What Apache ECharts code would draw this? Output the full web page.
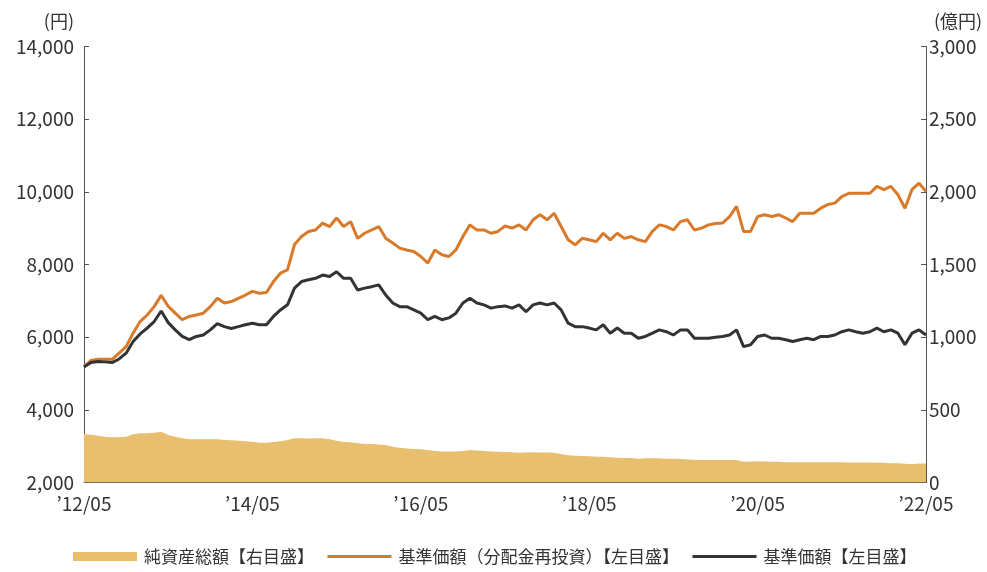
<!DOCTYPE html>
<html>
<head>
<meta charset="utf-8">
<script src="https://cdn.jsdelivr.net/npm/echarts@6/dist/echarts.min.js"></script>
<style>html,body{margin:0;padding:0;background:#fff}#c{width:987px;height:572px}</style>
</head>
<body>
<div id="c"></div>
<script>
// Month index 0 = 2012/05 ... 120 = 2022/05
var xLabels = ["\u201912/05", "\u201914/05", "\u201916/05", "\u201918/05", "\u201920/05", "\u201922/05"];
var leftTicks = [2000, 4000, 6000, 8000, 10000, 12000, 14000];
var rightTicks = [0, 500, 1000, 1500, 2000, 2500, 3000];
var seriesNames = ['純資産総額【右目盛】', '基準価額（分配金再投資）【左目盛】', '基準価額【左目盛】'];

// 基準価額(分配金再投資) (円), monthly
var navReinvested = [
  5180, 5360, 5390, 5390, 5390, 5560, 5740, 6110, 6430, 6610,
  6840, 7150, 6850, 6660, 6480, 6570, 6610, 6660, 6840, 7070,
  6940, 6980, 7070, 7160, 7260, 7210, 7230, 7530, 7760, 7850,
  8550, 8770, 8910, 8950, 9140, 9045, 9280, 9045, 9180, 8720,
  8860, 8950, 9045, 8720, 8590, 8450, 8400, 8360, 8220, 8040,
  8400, 8270, 8220, 8400, 8770, 9090, 8950, 8950, 8860, 8910,
  9060, 9000, 9090, 8950, 9230, 9370, 9230, 9410, 9045, 8680,
  8540, 8720, 8680, 8630, 8860, 8680, 8860, 8720, 8770, 8680,
  8630, 8910, 9090, 9045, 8950, 9180, 9230, 8950, 9000, 9090,
  9130, 9140, 9320, 9600, 8910, 8910, 9320, 9370, 9320, 9370,
  9280, 9180, 9410, 9410, 9410, 9550, 9650, 9690, 9870, 9960,
  9960, 9960, 9960, 10150, 10060, 10150, 9920, 9550, 10060, 10240,
  10010
];
// 基準価額 (円), monthly
var nav = [
  5180, 5300, 5330, 5320, 5300, 5400, 5560, 5880, 6090, 6250,
  6430, 6720, 6400, 6200, 6020, 5930, 6020, 6060, 6200, 6370,
  6290, 6240, 6290, 6340, 6385, 6340, 6340, 6570, 6750, 6890,
  7350, 7530, 7580, 7620, 7710, 7670, 7800, 7620, 7620, 7300,
  7350, 7390, 7440, 7160, 6940, 6840, 6840, 6750, 6660, 6480,
  6570, 6480, 6530, 6660, 6940, 7070, 6940, 6890, 6800, 6840,
  6860, 6800, 6890, 6700, 6890, 6940, 6890, 6940, 6750, 6385,
  6290, 6290, 6250, 6200, 6340, 6110, 6250, 6110, 6110, 5970,
  6020, 6110, 6200, 6150, 6060, 6200, 6200, 5970, 5970, 5970,
  6000, 6020, 6060, 6200, 5740, 5790, 6020, 6060, 5970, 5970,
  5930, 5880, 5930, 5970, 5930, 6020, 6020, 6060, 6150, 6200,
  6150, 6110, 6150, 6250, 6150, 6200, 6110, 5790, 6110, 6200,
  6060
];
// 純資産総額 (億円), monthly
var netAssets = [
  334, 329, 322, 315, 311, 311, 315, 332, 339, 339,
  343, 350, 327, 315, 304, 297, 297, 297, 297, 297,
  292, 290, 288, 283, 281, 274, 274, 279, 283, 292,
  304, 304, 302, 304, 304, 297, 288, 279, 277, 270,
  265, 265, 262, 258, 246, 239, 234, 230, 228, 223,
  216, 214, 214, 214, 216, 223, 221, 216, 214, 212,
  210, 209, 205, 207, 209, 207, 207, 205, 196, 187,
  184, 182, 180, 177, 177, 173, 171, 168, 168, 163,
  166, 166, 166, 163, 163, 161, 159, 156, 154, 154,
  154, 154, 154, 154, 143, 145, 147, 145, 143, 143,
  140, 140, 140, 140, 140, 140, 140, 140, 140, 138,
  138, 138, 138, 136, 136, 133, 133, 129, 126, 131,
  131
];

function pairs(arr) { return arr.map(function (v, i) { return [i, v]; }); }
function comma(v) { return String(v).replace(/\B(?=(\d{3})+(?!\d))/g, ','); }

var FONT = '"Noto Sans CJK JP", "Noto Sans", sans-serif';
var TXT = '#333333';
var AX = '#555555';

var chart = echarts.init(document.getElementById('c'), null, { renderer: 'canvas' });
chart.setOption({
  animation: false,
  textStyle: { fontFamily: FONT, color: TXT },
  grid: { left: 84, right: 61, top: 46.5, bottom: 89.5, containLabel: false },
  legend: {
    bottom: 2,
    left: 68,
    itemWidth: 64,
    itemHeight: 9,
    itemGap: 12,
    lineStyle: { width: 3 },
    textStyle: { fontFamily: FONT, fontSize: 17, color: TXT, padding: [0, 0, 0, 2] },
    data: [
      { name: seriesNames[0], icon: 'rect' },
      { name: seriesNames[1], itemStyle: { opacity: 0 } },
      { name: seriesNames[2], itemStyle: { opacity: 0 } }
    ]
  },
  xAxis: {
    type: 'value',
    min: 0, max: 120, interval: 24,
    axisLine: { show: true, lineStyle: { color: AX, width: 1 } },
    axisTick: { show: true, inside: true, length: 5, lineStyle: { color: AX } },
    splitLine: { show: false },
    axisLabel: {
      fontSize: 19, color: TXT, margin: 12, fontFamily: FONT,
      formatter: function (v) { return xLabels[Math.round(v / 24)]; }
    }
  },
  yAxis: [
    {
      type: 'value',
      min: leftTicks[0], max: leftTicks[leftTicks.length - 1], interval: 2000,
      name: '(円)', nameLocation: 'end', nameGap: 16,
      nameTextStyle: { fontSize: 18, color: TXT, align: 'right', padding: [0, 10, 0, 0], fontFamily: FONT },
      axisLine: { show: true, lineStyle: { color: AX, width: 1 } },
      axisTick: { show: true, inside: true, length: 5, lineStyle: { color: AX } },
      splitLine: { show: false },
      axisLabel: { fontSize: 19, color: TXT, margin: 10, fontFamily: FONT, formatter: comma }
    },
    {
      type: 'value',
      min: rightTicks[0], max: rightTicks[rightTicks.length - 1], interval: 500,
      name: '(億円)', nameLocation: 'end', nameGap: 16,
      nameTextStyle: { fontSize: 18, color: TXT, align: 'left', padding: [0, 0, 0, 8], fontFamily: FONT },
      axisLine: { show: true, lineStyle: { color: AX, width: 1 } },
      axisTick: { show: true, inside: true, length: 5, lineStyle: { color: AX } },
      splitLine: { show: false },
      axisLabel: { fontSize: 19, color: TXT, margin: 3, fontFamily: FONT, formatter: comma }
    }
  ],
  series: [
    {
      name: seriesNames[0],
      type: 'line',
      yAxisIndex: 1,
      data: pairs(netAssets),
      symbol: 'none',
      color: '#e8bf6e',
      lineStyle: { width: 0, color: '#e8bf6e' },
      itemStyle: { color: '#e8bf6e' },
      areaStyle: { color: '#e8bf6e', opacity: 1 },
      z: 1
    },
    {
      name: seriesNames[1],
      type: 'line',
      yAxisIndex: 0,
      data: pairs(navReinvested),
      symbol: 'none',
      color: '#d97a2b',
      lineStyle: { width: 3, color: '#d97a2b' },
      z: 3
    },
    {
      name: seriesNames[2],
      type: 'line',
      yAxisIndex: 0,
      data: pairs(nav),
      symbol: 'none',
      color: '#333333',
      lineStyle: { width: 3, color: '#333333' },
      z: 4
    }
  ]
});
</script>
</body>
</html>
